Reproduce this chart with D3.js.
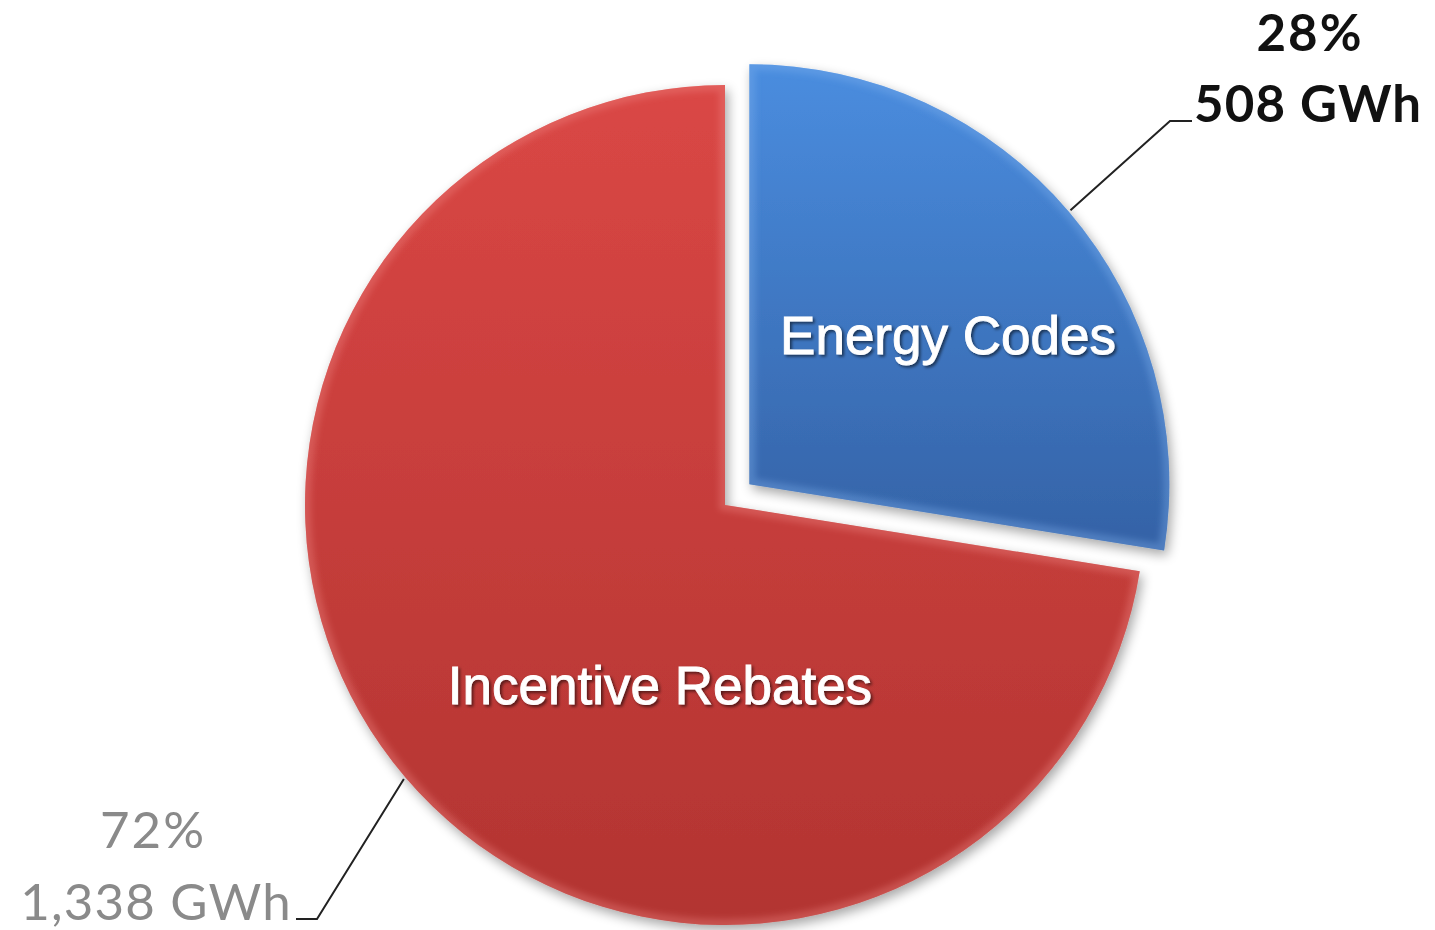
<!DOCTYPE html>
<html>
<head>
<meta charset="utf-8">
<script src="https://cdn.jsdelivr.net/npm/d3@7"></script>
<style>
  body { margin: 0; background: #fff; }
  svg { display: block; }
</style>
</head>
<body>
<div id="chart"></div>
<script>
// savings by program type
const categories = ['Energy Codes', 'Incentive Rebates'];
const values = [508, 1338];
const valueLabels = ['508 GWh', '1,338 GWh'];
const pctLabels = ['28%', '72%'];

const width = 1435;
const height = 930;
const cx = 725, cy = 505;
const radius = 420;
const explode = [32, 0];

const colors = {
  'Energy Codes': { top: '#4a8ddf', bottom: '#3462a6', light: '#7fb2ee' },
  'Incentive Rebates': { top: '#da4745', bottom: '#b23431', light: '#f08a88' }
};

const svg = d3.select('#chart')
  .append('svg')
  .attr('width', width)
  .attr('height', height);

const defs = svg.append('defs');

const shadow = defs.append('filter')
  .attr('id', 'shadow')
  .attr('x', '-10%').attr('y', '-10%')
  .attr('width', '130%').attr('height', '130%');
shadow.append('feGaussianBlur').attr('in', 'SourceAlpha').attr('stdDeviation', 6).attr('result', 'blur');
shadow.append('feOffset').attr('in', 'blur').attr('dx', 3).attr('dy', 5).attr('result', 'off');
shadow.append('feComponentTransfer').attr('in', 'off').attr('result', 'faded')
  .append('feFuncA').attr('type', 'linear').attr('slope', 0.35);
const merge = shadow.append('feMerge');
merge.append('feMergeNode').attr('in', 'faded');
merge.append('feMergeNode').attr('in', 'SourceGraphic');

const bevelBlur = defs.append('filter').attr('id', 'bevelBlur');
bevelBlur.append('feGaussianBlur').attr('stdDeviation', 3);

const textShadow = defs.append('filter').attr('id', 'textShadow')
  .attr('x', '-10%').attr('y', '-20%').attr('width', '120%').attr('height', '150%');
textShadow.append('feDropShadow').attr('dx', 2).attr('dy', 2).attr('stdDeviation', 1.5)
  .attr('flood-color', '#000').attr('flood-opacity', 0.55);

categories.forEach((c, i) => {
  const g = defs.append('linearGradient')
    .attr('id', 'grad' + i)
    .attr('x1', 0).attr('y1', 0).attr('x2', 0).attr('y2', 1);
  g.append('stop').attr('offset', '0%').attr('stop-color', colors[c].top);
  g.append('stop').attr('offset', '100%').attr('stop-color', colors[c].bottom);
});

const pie = d3.pie().sort(null).value(d => d);
const arcs = pie(values);

const arc = d3.arc().innerRadius(0).outerRadius(radius);
const outerArc = d3.arc().innerRadius(radius).outerRadius(radius);

function offsetOf(d, i) {
  const mid = (d.startAngle + d.endAngle) / 2;
  const e = explode[i];
  return [Math.sin(mid) * e, -Math.cos(mid) * e];
}

const slices = svg.append('g')
  .attr('transform', `translate(${cx},${cy})`)
  .selectAll('g.slice')
  .data(arcs)
  .enter()
  .append('g')
  .attr('class', 'slice')
  .attr('transform', (d, i) => {
    const o = offsetOf(d, i);
    return `translate(${o[0]},${o[1]})`;
  });

slices.each(function(d, i) {
  const s = d3.select(this);
  const clipId = 'clip' + i;
  defs.append('clipPath').attr('id', clipId)
    .append('path').attr('d', arc(d));

  s.append('path')
    .attr('d', arc(d))
    .attr('fill', `url(#grad${i})`)
    .attr('filter', 'url(#shadow)');

  // soft bevel highlight along the edges
  s.append('g')
    .attr('clip-path', `url(#${clipId})`)
    .append('path')
    .attr('d', arc(d))
    .attr('fill', 'none')
    .attr('stroke', colors[categories[i]].light)
    .attr('stroke-opacity', 0.35)
    .attr('stroke-width', 12)
    .attr('filter', 'url(#bevelBlur)');
});

// category names inside slices
const insidePos = [[948, 335], [660, 685]];
svg.append('g')
  .selectAll('text')
  .data(categories)
  .enter()
  .append('text')
  .attr('x', (d, i) => insidePos[i][0])
  .attr('y', (d, i) => insidePos[i][1])
  .attr('dy', '0.35em')
  .attr('text-anchor', 'middle')
  .attr('font-family', 'Liberation Sans, Arial, sans-serif')
  .attr('font-size', 53)
  .attr('fill', '#fff')
  .attr('stroke', '#fff')
  .attr('stroke-width', 0.9)
  .attr('filter', 'url(#textShadow)')
  .text(d => d);

// leader lines and value labels
const labelStyle = [
  { weight: 'bold', color: '#111', anchor: 'start', x: 1194, y1: 51, y2: 122, elbow: 1170, center: 1310 },
  { weight: 'normal', color: '#8a8a8a', anchor: 'end', x: 292, y1: 848, y2: 920, elbow: 317, center: 153 }
];

arcs.forEach((d, i) => {
  const o = offsetOf(d, i);
  const p = outerArc.centroid(d);
  const st = labelStyle[i];
  const start = [cx + o[0] + p[0] * 1.005, cy + o[1] + p[1] * 1.005];
  const lineY = st.y2 - 1;
  svg.append('polyline')
    .attr('points', [start, [st.elbow, lineY], [i === 0 ? st.x - 2 : st.x + 4, lineY]].map(q => q.join(',')).join(' '))
    .attr('fill', 'none')
    .attr('stroke', '#222')
    .attr('stroke-width', 2);

  svg.append('text')
    .attr('x', st.center)
    .attr('y', st.y1)
    .attr('text-anchor', 'middle')
    .attr('font-family', 'Lato, Open Sans, sans-serif')
    .attr('font-weight', st.weight)
    .attr('font-size', 51)
    .attr('letter-spacing', 2)
    .attr('fill', st.color)
    .text(pctLabels[i]);

  svg.append('text')
    .attr('x', st.x)
    .attr('y', st.y2)
    .attr('text-anchor', st.anchor)
    .attr('font-family', 'Lato, Open Sans, sans-serif')
    .attr('font-weight', st.weight)
    .attr('font-size', 51)
    .attr('letter-spacing', 1.2)
    .attr('fill', st.color)
    .text(valueLabels[i]);
});
</script>
</body>
</html>
